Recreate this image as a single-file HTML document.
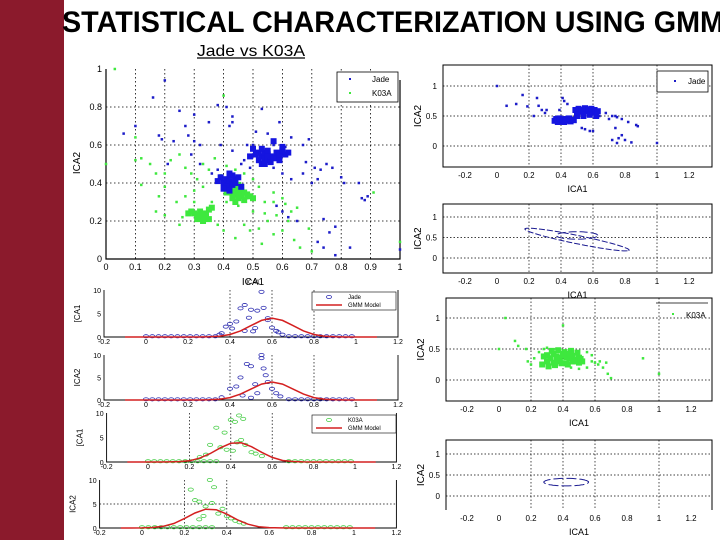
<!DOCTYPE html>
<html><head><meta charset="utf-8"><style>
html,body{margin:0;padding:0;background:#fff}
svg{display:block}
text{font-family:"Liberation Sans",sans-serif}
</style></head><body>
<svg id="s" width="720" height="540" viewBox="0 0 720 540" xmlns="http://www.w3.org/2000/svg">
<rect x="0" y="0" width="720" height="540" fill="#fff"/>
<rect x="0" y="0" width="64" height="540" fill="#8b1a2c"/>
<text x="62" y="32" font-size="30" font-weight="bold" textLength="662" lengthAdjust="spacingAndGlyphs">STATISTICAL CHARACTERIZATION USING GMM</text>
<text x="197" y="56" font-size="16" textLength="108" lengthAdjust="spacingAndGlyphs">Jade vs K03A</text>
<line x1="197" y1="58" x2="305" y2="58" stroke="#000" stroke-width="1.2"/>
<g id="g"></g>
</svg>
<script>
// ---------- data ----------
const jadeX=[0.06,0.1,0.16,0.2,0.18,0.19,0.25,0.27,0.28,0.3,0.3,0.32,0.23,0.21,0.35,0.38,0.41,0.43,0.43,0.42,0.53,0.59,0.55,0.51,0.63,0.67,0.69,0.68,0.71,0.73,0.75,0.77,0.8,0.81,0.86,0.87,0.88,0.89,0.72,0.74,0.76,0.78,0.83,0.78,0.74,0.65,0.62,0.6,0.58,0.63,0.67,0.6,0.57,0.49,0.46,0.43,0.39,0.47,0.36,0.29,0.32,0.38,0.7,0.72,0.5,0.61,0.6,0.48,0.57,1.0];
const jadeY=[0.66,0.7,0.85,0.94,0.65,0.63,0.78,0.7,0.65,0.76,0.62,0.6,0.62,0.5,0.72,0.81,0.8,0.75,0.72,0.7,0.79,0.72,0.66,0.67,0.64,0.6,0.63,0.51,0.48,0.47,0.5,0.48,0.43,0.4,0.4,0.32,0.31,0.33,0.09,0.06,0.14,0.02,0.06,0.17,0.21,0.2,0.22,0.25,0.28,0.42,0.45,0.45,0.48,0.48,0.5,0.57,0.6,0.52,0.45,0.55,0.5,0.47,0.4,0.42,0.6,0.59,0.55,0.6,0.6,0.05];
const jadeClX=[0.52,0.53,0.54,0.55,0.56,0.53,0.54,0.55,0.52,0.56,0.57,0.51,0.54,0.55,0.53,0.58,0.59,0.6,0.61,0.62,0.6,0.59,0.5,0.49,0.57,0.4,0.41,0.42,0.43,0.44,0.39,0.41,0.43,0.42,0.44,0.45,0.4,0.38,0.46,0.42];
const jadeClY=[0.52,0.54,0.53,0.52,0.54,0.5,0.56,0.55,0.56,0.51,0.53,0.55,0.5,0.57,0.58,0.56,0.55,0.57,0.55,0.56,0.59,0.52,0.58,0.54,0.62,0.4,0.42,0.41,0.39,0.42,0.43,0.38,0.44,0.45,0.4,0.43,0.37,0.41,0.38,0.36];
const kX=[0.03,0.1,0.1,0.12,0.15,0.17,0.2,0.22,0.25,0.27,0.29,0.31,0.33,0.35,0.37,0.18,0.2,0.17,0.2,0.24,0.27,0.26,0.25,0.3,0.33,0.36,0.38,0.4,0.44,0.47,0.49,0.52,0.53,0.55,0.57,0.6,0.62,0.64,0.66,0.69,0.63,0.65,0.6,0.57,0.54,0.52,0.5,0.47,0.44,0.41,0.39,0.4,0.7,0.91,1.0,0.0,0.58,0.5,0.45,0.41,0.35,0.3,0.48,0.54,0.57,0.61,0.12];
const kY=[1.0,0.64,0.52,0.53,0.5,0.45,0.45,0.52,0.55,0.48,0.45,0.42,0.5,0.47,0.53,0.33,0.38,0.25,0.23,0.3,0.33,0.22,0.18,0.36,0.38,0.3,0.18,0.15,0.11,0.18,0.15,0.16,0.08,0.2,0.13,0.15,0.2,0.1,0.06,0.16,0.25,0.27,0.32,0.35,0.3,0.38,0.42,0.45,0.47,0.49,0.44,0.86,0.04,0.35,0.09,0.5,0.23,0.25,0.28,0.3,0.26,0.3,0.32,0.24,0.3,0.29,0.39];
const kClX=[0.43,0.44,0.45,0.46,0.47,0.44,0.45,0.46,0.48,0.42,0.43,0.47,0.45,0.44,0.46,0.49,0.41,0.5,0.45,0.43,0.3,0.31,0.32,0.33,0.34,0.35,0.31,0.33,0.34,0.29,0.36,0.32,0.28,0.35];
const kClY=[0.35,0.34,0.36,0.33,0.35,0.37,0.32,0.38,0.34,0.36,0.32,0.31,0.39,0.3,0.36,0.33,0.35,0.32,0.35,0.38,0.24,0.23,0.25,0.22,0.24,0.26,0.21,0.2,0.22,0.25,0.27,0.23,0.24,0.21];
const r1X=[0.0,0.06,0.12,0.16,0.19,0.23,0.25,0.26,0.28,0.3,0.31,0.39,0.41,0.42,0.44,0.62,0.64,0.68,0.7,0.72,0.74,0.75,0.78,0.82,0.87,0.88,0.74,0.72,0.75,0.76,0.8,0.84,0.78,0.58,0.6,0.55,0.53,1.0];
const r1Y=[1.0,0.67,0.7,0.85,0.66,0.5,0.8,0.67,0.6,0.55,0.6,0.6,0.8,0.75,0.7,0.62,0.5,0.55,0.45,0.5,0.5,0.48,0.45,0.4,0.35,0.33,0.3,0.1,0.05,0.13,0.1,0.06,0.18,0.25,0.25,0.28,0.3,0.05];
const r1ClX=[0.36,0.38,0.4,0.42,0.44,0.46,0.48,0.37,0.39,0.41,0.43,0.45,0.47,0.5,0.52,0.54,0.56,0.58,0.6,0.62,0.49,0.51,0.53,0.55,0.57,0.59,0.61,0.63,0.5,0.54,0.58,0.62];
const r1ClY=[0.42,0.4,0.41,0.4,0.42,0.41,0.43,0.45,0.46,0.44,0.45,0.46,0.44,0.55,0.57,0.56,0.58,0.55,0.57,0.56,0.6,0.62,0.6,0.63,0.61,0.62,0.6,0.58,0.5,0.5,0.52,0.5];
const r3X=[0.04,0.0,0.1,0.12,0.4,0.9,1.0,0.7,0.68,0.65,0.67,0.6,0.17,0.2,0.18,0.55,0.5,0.62,0.58,0.45,0.22,0.25,0.28,0.3,0.35,0.55,0.58,0.63];
const r3Y=[1.0,0.5,0.63,0.55,0.88,0.35,0.1,0.03,0.1,0.2,0.28,0.28,0.5,0.25,0.3,0.2,0.18,0.25,0.3,0.2,0.35,0.45,0.5,0.52,0.45,0.45,0.4,0.3];
const r3ClX=[0.28,0.3,0.32,0.34,0.36,0.38,0.4,0.42,0.44,0.46,0.48,0.5,0.52,0.3,0.34,0.38,0.42,0.46,0.5,0.33,0.37,0.41,0.45,0.49,0.27,0.31,0.35,0.39,0.43,0.47,0.51,0.36,0.4,0.44];
const r3ClY=[0.38,0.4,0.35,0.42,0.38,0.36,0.4,0.37,0.35,0.39,0.33,0.36,0.3,0.3,0.28,0.3,0.27,0.3,0.28,0.47,0.48,0.45,0.47,0.44,0.25,0.22,0.24,0.27,0.25,0.3,0.34,0.33,0.42,0.42];
const ell2C=[[0.5,0.45,0.42,0.08,-40],[0.5,0.55,0.13,0.09,0]];
const ell4C=[[0.42,0.33,0.14,0.09,0]];
const gridX=[-0.1,-0.05,0,0.05,0.1,0.15,0.2,0.25,0.3,0.35,0.4,0.45,0.5,0.55,0.6,0.65,0.7,0.75,0.8,0.85,0.9,0.95,1.0,1.05,1.1];
const gmm1=[0,0,0,0,0,0,0,0.01,0.04,0.18,0.54,1.3,2.43,3.53,4.0,3.53,2.43,1.3,0.54,0.18,0.04,0.01,0,0,0];
const gmm2=[0,0,0,0,0,0,0,0.01,0.04,0.18,0.54,1.3,2.43,3.53,4.0,3.53,2.43,1.3,0.54,0.18,0.04,0.01,0,0,0];
const gmm3=[0,0,0,0,0.02,0.08,0.25,0.79,1.71,2.9,3.82,3.92,3.13,1.95,0.94,0.3,0.1,0.02,0,0,0,0,0,0,0];
const gmm4=[0,0,0.02,0.1,0.36,0.94,1.95,3.13,3.92,3.82,2.9,1.71,0.79,0.28,0.08,0.02,0,0,0,0,0,0,0,0,0];
const baseX=[0,0.03,0.06,0.09,0.12,0.15,0.18,0.21,0.24,0.27,0.3,0.33,0.68,0.71,0.74,0.77,0.8,0.83,0.86,0.89,0.92,0.95,0.98];
const h1X=[0.38,0.4,0.41,0.43,0.45,0.47,0.47,0.49,0.5,0.51,0.52,0.53,0.55,0.56,0.58,0.58,0.6,0.62,0.63,0.65,0.36,0.35];
const h1Y=[2.2,2.8,1.8,3.3,6.1,6.8,1.3,4.1,5.8,1.2,1.9,5.6,9.6,6.2,3.6,4.0,2.0,1.3,1.0,0.5,0.8,0.5];
const h2X=[0.4,0.43,0.45,0.46,0.48,0.5,0.5,0.52,0.53,0.55,0.55,0.56,0.57,0.58,0.6,0.62,0.64,0.36];
const h2Y=[2.5,3.0,5.0,1.0,8.0,7.5,0.5,3.5,1.5,10,9.3,7.0,5.5,4.0,2.5,1.5,0.8,0.6];
const h3X=[0.33,0.37,0.4,0.42,0.44,0.46,0.3,0.35,0.38,0.41,0.43,0.45,0.47,0.5,0.52,0.55,0.28,0.25];
const h3Y=[7,6,8.6,8.2,9.5,8.8,3.5,3.0,2.5,2.3,4.0,4.5,3.5,2.0,1.7,1.2,1.5,1.0];
const h4X=[0.23,0.25,0.27,0.32,0.34,0.3,0.33,0.36,0.38,0.29,0.27,0.4,0.42,0.44,0.46,0.48];
const h4Y=[8,5.8,5.5,10,8.5,4.5,5.2,3.0,4.0,2.5,1.8,2.5,2.0,1.5,1.2,0.9];
const ticksMain=[0,0.1,0.2,0.3,0.4,0.5,0.6,0.7,0.8,0.9,1];
const ticksMainY=[0,0.2,0.4,0.6,0.8,1];
const ticksD=[-0.2,0,0.2,0.4,0.6,0.8,1,1.2];
const ticksDY=[0,5,10];
const ticksR=[-0.2,0,0.2,0.4,0.6,0.8,1,1.2];
const ticksRY=[0,0.5,1];

// ---------- drawing ----------
const NS='http://www.w3.org/2000/svg';
const G=document.getElementById('g');
function mk(tag,at,par){const e=document.createElementNS(NS,tag);for(const k in at)e.setAttribute(k,at[k]);(par||G).appendChild(e);return e;}
function txt(x,y,s,size,par,anchor,rot){const t=mk('text',{x:x,y:y,'font-size':size,'text-anchor':anchor||'middle'},par);if(rot)t.setAttribute('transform','rotate(-90 '+x+' '+y+')');t.textContent=s;return t;}
function axes(x0,kx,y0,ky){return {sx:v=>x0+kx*v,sy:v=>y0+ky*v};}
const BLUE='#1c1cc8',GREEN='#3ee83e',RED='#d42020';

const M=axes(106,294,259,-190);
const gm=mk('g',{});
ticksMain.forEach(v=>{if(v>0&&v<1){const l=mk('line',{x1:M.sx(v),x2:M.sx(v),y1:69,y2:259,stroke:'#000','stroke-width':0.8,'stroke-dasharray':'1.5 2.5'},gm);}
 const t=txt(M.sx(v),270,String(v),9,gm);});
ticksMainY.forEach(v=>{if(v>0&&v<1){const l=mk('line',{x1:106,x2:400,y1:M.sy(v),y2:M.sy(v),stroke:'#000','stroke-width':0.8,'stroke-dasharray':'1.5 2.5'},gm);}
 const t=txt(102,M.sy(v)+3,String(v),9,gm,'end');});
mk('path',{d:'M106 69V259H400V80',fill:'none',stroke:'#000','stroke-width':1.2},gm);
let t=txt(253,285,'ICA1',10,gm);
t=txt(80,163,'ICA2',10,gm,'middle',true);
function pts(par,A,xs,ys,col,sz){xs.forEach((x,i)=>{const r=mk('rect',{x:A.sx(x)-sz/2,y:A.sy(ys[i])-sz/2,width:sz,height:sz,fill:col},par);});}
pts(gm,M,kX,kY,GREEN,2.5);pts(gm,M,kClX,kClY,GREEN,6);
pts(gm,M,jadeX,jadeY,BLUE,2.5);pts(gm,M,jadeClX,jadeClY,'#1515e0',6);
const lg=mk('g',{},gm);
mk('rect',{x:337,y:72,width:61,height:30,fill:'#fff',stroke:'#000','stroke-width':0.8},lg);
mk('rect',{x:349,y:78,width:2,height:2,fill:BLUE},lg);mk('rect',{x:349,y:92,width:2,height:2,fill:GREEN},lg);
txt(372,82,'Jade',8,lg,'start');txt(372,96,'K03A',8,lg,'start');

function dens(name,A,yTop,yBot,gx,gy,gmm,hx,hy,col,leg){
 const g=mk('g',{});
 gx.forEach(v=>{const l=mk('line',{x1:A.sx(v),x2:A.sx(v),y1:yTop,y2:yBot,stroke:'#000','stroke-width':0.7,'stroke-dasharray':'1.5 2'},g);});
 gy.forEach(v=>{mk('line',{x1:A.sx(-0.2),x2:A.sx(1.2),y1:A.sy(v),y2:A.sy(v),stroke:'#000','stroke-width':0.7,'stroke-dasharray':'1.5 2'},g);});
 mk('path',{d:'M'+A.sx(-0.2)+' '+yTop+'V'+yBot+'H'+A.sx(1.2)+'V'+yTop,fill:'none',stroke:'#000','stroke-width':0.9},g);
 ticksD.forEach(v=>{const q=txt(A.sx(v),yBot+7,String(v),7,g);});
 ticksDY.forEach(v=>{const q=txt(A.sx(-0.2)-3,A.sy(v)+3,String(v),7,g,'end');});
 baseX.concat(hx).forEach((x,i)=>{const y=i<baseX.length?0.15:hy[i-baseX.length];const c=mk('ellipse',{cx:A.sx(x),cy:A.sy(y),rx:2.6,ry:1.6,fill:'none',stroke:col,'stroke-width':0.8},g);});
 const p=mk('path',{d:gridX.map((x,i)=>(i?'L':'M')+A.sx(x).toFixed(1)+' '+A.sy(gmm[i]).toFixed(1)).join(''),fill:'none',stroke:RED,'stroke-width':1.5},g);
 
 const q=txt(A.sx(-0.2)-24,(yTop+yBot)/2,name.indexOf('ica1')>=0?'[CA1':'ICA2',8,g,'middle',true);
 if(leg){const l=mk('g',{},g);
  mk('rect',{x:312,y:yTop+2,width:84,height:18,fill:'#fff',stroke:'#000','stroke-width':0.6},l);
  mk('ellipse',{cx:329,cy:yTop+7,rx:2.5,ry:1.6,fill:'none',stroke:col,'stroke-width':0.8},l);
  mk('line',{x1:316,x2:342,y1:yTop+15,y2:yTop+15,stroke:RED,'stroke-width':1.5},l);
  txt(348,yTop+9,leg,6,l,'start');txt(348,yTop+17,'GMM Model',6,l,'start');}
}
dens('density-jade-ica1',axes(146,210,337,-4.7),290,337,[0.4,0.6,0.8],[],gmm1,h1X,h1Y,'#2a2ab0','Jade');
dens('density-jade-ica2',axes(146,210,400,-4.5),355,400,[0.4,0.6,0.8],[],gmm2,h2X,h2Y,'#2a2ab0',null);
dens('density-k03a-ica1',axes(148,207,462,-4.9),413,462,[0.2,0.4,0.6],[],gmm3,h3X,h3Y,'#44cc44','K03A');
dens('density-k03a-ica2',axes(142,212,528,-4.8),480,528,[0.2,0.4],[5],gmm4,h4X,h4Y,'#44cc44',null);
const tt=txt(253,284,'ICA1',6,G);

function rpanel(name,A,box,open){
 const g=mk('g',{});
 [0.2,0.4,0.6,1].forEach(v=>{const l=mk('line',{x1:A.sx(v),x2:A.sx(v),y1:box[1],y2:box[3],stroke:'#000','stroke-width':0.7,'stroke-dasharray':'1.5 2'},g);});
 ticksRY.forEach(v=>{mk('line',{x1:box[0],x2:box[2],y1:A.sy(v),y2:A.sy(v),stroke:'#000','stroke-width':0.7,'stroke-dasharray':'1.5 2'},g);
  const q=txt(box[0]-6,A.sy(v)+3,String(v),8,g,'end');});
 if(open)mk('path',{d:'M'+box[0]+' '+box[3]+'V'+box[1]+'H'+box[2]+'V'+box[3],fill:'none',stroke:'#000','stroke-width':1},g);
 else mk('rect',{x:box[0],y:box[1],width:box[2]-box[0],height:box[3]-box[1],fill:'none',stroke:'#000','stroke-width':1},g);
 ticksR.forEach(v=>{const q=txt(A.sx(v),box[3]+11,String(v),8,g);});
 let q=txt((box[0]+box[2])/2,box[3]+25,'ICA1',9,g);
 q=txt(box[0]-22,(box[1]+box[3])/2,'ICA2',10,g,'middle',true);
 return g;
}
function ellipse(par,A,c,dash){const [cx,cy,a,b,ang]=c;const r=ang*Math.PI/180;let d='';
 for(let i=0;i<=60;i++){const th=i/60*2*Math.PI;const x=cx+a*Math.cos(th)*Math.cos(r)-b*Math.sin(th)*Math.sin(r);const y=cy+a*Math.cos(th)*Math.sin(r)+b*Math.sin(th)*Math.cos(r);d+=(i?'L':'M')+A.sx(x).toFixed(1)+' '+A.sy(y).toFixed(1);}
 const p=mk('path',{d:d,fill:'none',stroke:'#1a1a90','stroke-width':1,'stroke-dasharray':dash},par);}
const R1=axes(497,160,146,-60);const g1=rpanel('jade-scatter-panel',R1,[443,65,712,167]);
pts(g1,R1,r1X,r1Y,BLUE,2.5);pts(g1,R1,r1ClX,r1ClY,'#1515e0',6);
mk('rect',{x:657,y:71,width:51,height:21,fill:'#fff',stroke:'#000','stroke-width':0.8},g1);mk('rect',{x:674,y:80,width:2,height:2,fill:BLUE},g1);txt(688,84,'Jade',8,g1,'start');
const R2=axes(497,160,258,-41);const g2=rpanel('jade-gmm-ellipse-panel',R2,[443,204,712,273]);
ellipse(g2,R2,ell2C[0],'6 2');ellipse(g2,R2,ell2C[1],'8 3');
const R3=axes(499,160,380,-62);const g3=rpanel('k03a-scatter-panel',R3,[446,298,712,401]);
pts(g3,R3,r3X,r3Y,GREEN,2.5);pts(g3,R3,r3ClX,r3ClY,GREEN,6);
mk('line',{x1:656,x2:708,y1:303,y2:303,stroke:'#000','stroke-width':0.8},g3);mk('rect',{x:672,y:313,width:2,height:2,fill:GREEN},g3);txt(686,318,'K03A',8,g3,'start');
const R4=axes(499,160,496,-42);const g4=rpanel('k03a-gmm-ellipse-panel',R4,[446,440,712,510],true);
ellipse(g4,R4,ell4C[0],'10 3');
</script>
</body></html>
